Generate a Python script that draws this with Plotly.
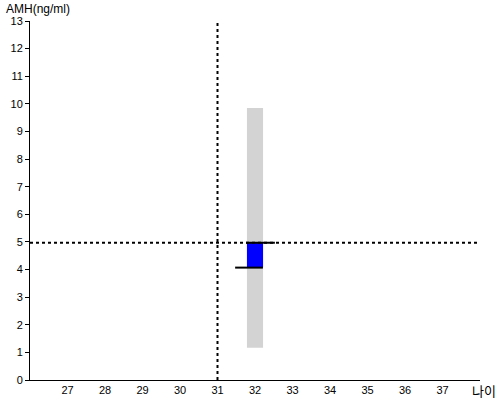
import plotly.graph_objects as go

# Data
x_ticks = [27, 28, 29, 30, 31, 32, 33, 34, 35, 36, 37]
y_ticks = list(range(0, 14))
age = 31
amh_value = 4.97
bar_x = [32]
range_low = [1.17]
range_high = [9.85]
mid_low = [4.07]
mid_high = [4.97]
top_seg_x = [31.76, 32.53]
top_seg_y = [4.97, 4.97]
bot_seg_x = [31.47, 32.21]
bot_seg_y = [4.07, 4.07]

fig = go.Figure()
fig.add_trace(go.Bar(x=bar_x, y=[h - l for h, l in zip(range_high, range_low)], base=range_low,
                     width=[0.43], marker=dict(color="#d3d3d3", line=dict(width=0)), hoverinfo="skip"))
fig.add_trace(go.Bar(x=bar_x, y=[h - l for h, l in zip(mid_high, mid_low)], base=mid_low,
                     width=[0.43], marker=dict(color="#0000ff", line=dict(width=0)), hoverinfo="skip"))
fig.add_trace(go.Scatter(x=top_seg_x, y=top_seg_y, mode="lines", line=dict(color="black", width=2)))
fig.add_trace(go.Scatter(x=bot_seg_x, y=bot_seg_y, mode="lines", line=dict(color="black", width=2)))
fig.add_trace(go.Scatter(x=[26, 38], y=[amh_value, amh_value], mode="lines",
                         line=dict(color="black", width=2, dash="dot")))
fig.add_trace(go.Scatter(x=[age, age], y=[0, 13], mode="lines",
                         line=dict(color="black", width=2, dash="dot")))

fig.update_layout(
    width=500, height=400,
    margin=dict(l=30, r=20, t=21, b=20),
    paper_bgcolor="white", plot_bgcolor="white",
    showlegend=False, barmode="overlay",
    font=dict(family="Liberation Sans, Arial, sans-serif", size=11, color="black"),
)
fig.update_xaxes(range=[26, 38], tickvals=x_ticks, ticktext=[str(v) for v in x_ticks],
                 showgrid=False, zeroline=False, showline=True, linecolor="black", linewidth=1,
                 ticks="", fixedrange=True, automargin=False)
fig.update_yaxes(range=[0, 13], tickvals=y_ticks, ticktext=[str(v) for v in y_ticks],
                 showgrid=False, zeroline=False, showline=True, linecolor="black", linewidth=1,
                 ticks="outside", ticklen=4, tickcolor="black", fixedrange=True, automargin=False)
fig.add_annotation(text="AMH(ng/ml)", xref="paper", yref="paper", x=-0.057, y=1.0, yshift=12,
                   xanchor="left", yanchor="middle", showarrow=False,
                   font=dict(size=12, family="Liberation Sans, Arial, sans-serif"))
fig.add_annotation(text="나이", xref="paper", yref="paper", x=1.0, y=0, yshift=-10, xshift=18,
                   xanchor="right", yanchor="middle", showarrow=False,
                   font=dict(size=13, family="Noto Sans CJK KR, sans-serif"))

fig.write_html("out.html", config={"displayModeBar": False},
               post_script="document.body.style.margin='0';")
